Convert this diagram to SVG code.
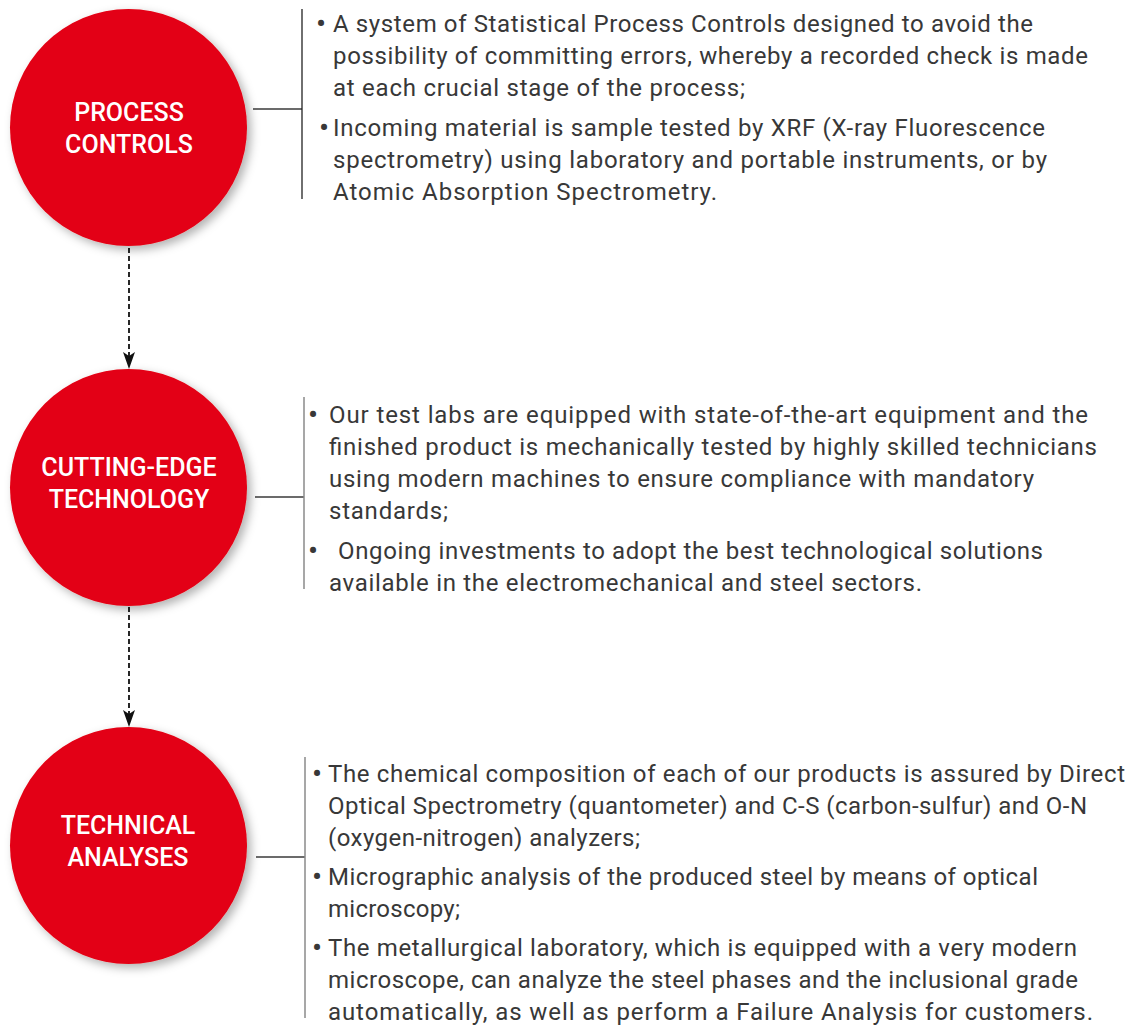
<svg xmlns="http://www.w3.org/2000/svg" width="1136" height="1025" viewBox="0 0 1136 1025">
<style>
.circ{fill:#E30613;filter:url(#sh)}
.lbl{font-family:Roboto,"Liberation Sans",sans-serif;font-weight:500;font-size:25px;fill:#fff;text-anchor:middle}
.tx{font-family:Roboto,"Liberation Sans",sans-serif;font-size:24px;fill:#383838}
.bu{font-family:Roboto,"Liberation Sans",sans-serif;font-size:30px;fill:#383838;text-anchor:middle}
.hl{stroke:#3a3a3a;stroke-width:1.3;fill:none}
.vl{stroke:#8a8a8a;stroke-width:1.5;fill:none}
.dash{stroke:#111;stroke-width:1.8;stroke-dasharray:5 3;fill:none}
.head{fill:#111}
</style>
<defs>
<filter id="sh" x="-20%" y="-20%" width="150%" height="150%">
<feDropShadow dx="4" dy="4" stdDeviation="5" flood-color="#000" flood-opacity="0.3"/>
</filter>
</defs>
<rect width="1136" height="1025" fill="#fff"/>

<g id="connectors">
<line class="dash" x1="129" y1="248" x2="129" y2="356"/>
<path class="head" d="M123,352 L129,356 L135,352 L129,369 Z"/>
<line class="dash" x1="129" y1="607" x2="129" y2="714"/>
<path class="head" d="M123,710 L129,714 L135,710 L129,727 Z"/>
<line class="hl" x1="253" y1="109" x2="302" y2="109"/>
<line class="hl" x1="302" y1="9" x2="302" y2="199" style="stroke:#222"/>
<line class="hl" x1="255" y1="497" x2="304" y2="497"/>
<line class="vl" x1="304" y1="397" x2="304" y2="589"/>
<line class="hl" x1="256" y1="857" x2="305" y2="857"/>
<line class="vl" x1="305" y1="757" x2="305" y2="1018"/>
</g>

<g id="node-process-controls">
<circle class="circ" cx="128.5" cy="127.5" r="118.5"/>
<text class="lbl" x="129" y="121">PROCESS</text>
<text class="lbl" x="129" y="153">CONTROLS</text>
</g>

<g id="node-cutting-edge">
<circle class="circ" cx="128.5" cy="487.5" r="118.5"/>
<text class="lbl" x="129" y="476">CUTTING-EDGE</text>
<text class="lbl" x="129" y="508">TECHNOLOGY</text>
</g>

<g id="node-technical-analyses">
<circle class="circ" cx="128.5" cy="845.5" r="118.5"/>
<text class="lbl" x="128" y="834">TECHNICAL</text>
<text class="lbl" x="128" y="866">ANALYSES</text>
</g>

<g id="text-process-controls">
<text class="bu" x="321" y="34">•</text>
<text class="tx" x="333" y="32" textLength="700" lengthAdjust="spacing">A system of Statistical Process Controls designed to avoid the</text>
<text class="tx" x="333" y="64" textLength="755" lengthAdjust="spacing">possibility of committing errors, whereby a recorded check is made</text>
<text class="tx" x="333" y="96" textLength="412" lengthAdjust="spacing">at each crucial stage of the process;</text>
<text class="bu" x="324" y="138">•</text>
<text class="tx" x="333" y="136" textLength="712" lengthAdjust="spacing">Incoming material is sample tested by XRF (X-ray Fluorescence</text>
<text class="tx" x="333" y="168" textLength="714" lengthAdjust="spacing">spectrometry) using laboratory and portable instruments, or by</text>
<text class="tx" x="333" y="200" textLength="384" lengthAdjust="spacing">Atomic Absorption Spectrometry.</text>
</g>

<g id="text-cutting-edge">
<text class="bu" x="313" y="425">•</text>
<text class="tx" x="329" y="423" textLength="759" lengthAdjust="spacing">Our test labs are equipped with state-of-the-art equipment and the</text>
<text class="tx" x="329" y="455" textLength="768" lengthAdjust="spacing">finished product is mechanically tested by highly skilled technicians</text>
<text class="tx" x="329" y="487" textLength="705" lengthAdjust="spacing">using modern machines to ensure compliance with mandatory</text>
<text class="tx" x="329" y="519" textLength="119" lengthAdjust="spacing">standards;</text>
<text class="bu" x="313" y="561">•</text>
<text class="tx" x="338" y="559" textLength="705" lengthAdjust="spacing">Ongoing investments to adopt the best technological solutions</text>
<text class="tx" x="329" y="591" textLength="593" lengthAdjust="spacing">available in the electromechanical and steel sectors.</text>
</g>

<g id="text-technical-analyses">
<text class="bu" x="317" y="784">•</text>
<text class="tx" x="328" y="782" textLength="797" lengthAdjust="spacing">The chemical composition of each of our products is assured by Direct</text>
<text class="tx" x="328" y="814" textLength="759" lengthAdjust="spacing">Optical Spectrometry (quantometer) and C-S (carbon-sulfur) and O-N</text>
<text class="tx" x="328" y="846" textLength="312" lengthAdjust="spacing">(oxygen-nitrogen) analyzers;</text>
<text class="bu" x="317" y="887">•</text>
<text class="tx" x="328" y="885" textLength="710" lengthAdjust="spacing">Micrographic analysis of the produced steel by means of optical</text>
<text class="tx" x="328" y="917" textLength="132" lengthAdjust="spacing">microscopy;</text>
<text class="bu" x="317" y="958">•</text>
<text class="tx" x="328" y="956" textLength="749" lengthAdjust="spacing">The metallurgical laboratory, which is equipped with a very modern</text>
<text class="tx" x="328" y="988" textLength="750" lengthAdjust="spacing">microscope, can analyze the steel phases and the inclusional grade</text>
<text class="tx" x="328" y="1020" textLength="765" lengthAdjust="spacing">automatically, as well as perform a Failure Analysis for customers.</text>
</g>
</svg>
